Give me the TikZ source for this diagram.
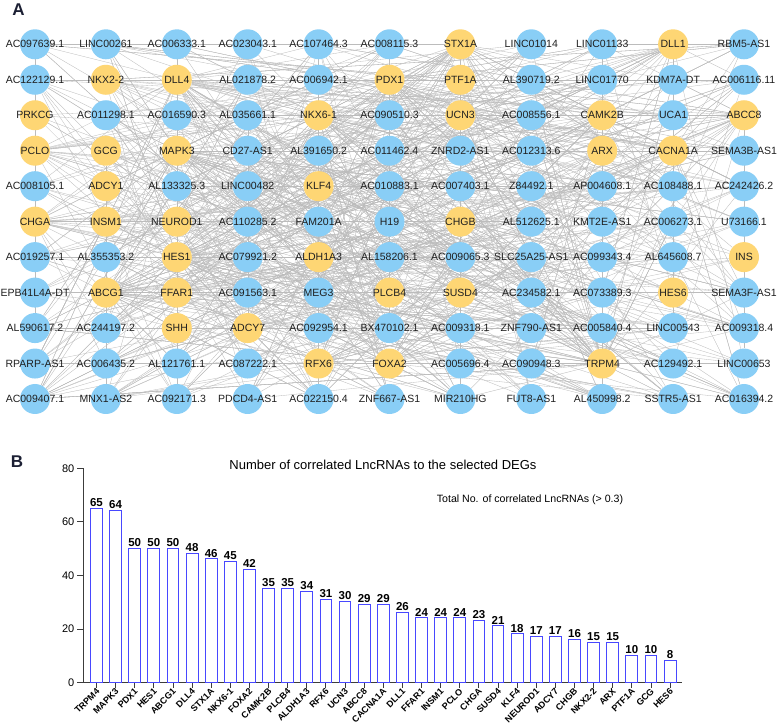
\documentclass[tikz,border=0pt]{standalone}
\usepackage{fontspec}
\setmainfont{Liberation Sans}
\usetikzlibrary{backgrounds}
\definecolor{nodeblue}{RGB}{137,206,246}
\definecolor{nodeyellow}{RGB}{254,214,116}
\definecolor{edgegray}{RGB}{188,188,188}
\definecolor{barblue}{RGB}{72,72,255}
\definecolor{panelink}{RGB}{28,32,52}
\definecolor{axisgray}{RGB}{60,60,60}
\newcommand\gridrow[2]{%
  \foreach \lbl/\typ [count=\cc] in {#2} {%
    \node[\typ,label={[lab]center:\lbl}] (n#1-\cc) at ({35+(\cc-1)*70.9},{44.3+(#1-1)*35.47}) {};
    \ifx\typ\lnctag \xdef\bluelist{\bluelist{n#1-\cc}}\fi
  }}
\def\lnctag{lnc}
\def\bluelist{}
\begin{document}
\begin{tikzpicture}[x=1pt,y=-1pt,
  lnc/.style={circle,fill=nodeblue,minimum size=30pt,inner sep=0pt},
  gene/.style={circle,fill=nodeyellow,minimum size=30pt,inner sep=0pt},
  lab/.style={font=\fontsize{10.5}{12}\selectfont,text=black!88,inner sep=0pt},
  edge/.style={draw=edgegray,line width=0.32pt},
  panel/.style={font=\fontsize{17}{20}\bfseries,text=panelink},
  barbox/.style={draw=barblue,fill=white,line width=1pt,minimum width=11.8pt,inner sep=0pt},
  vallab/.style={font=\fontsize{11.5}{13}\bfseries,inner sep=1pt},
  xlab/.style={font=\fontsize{9}{11}\bfseries,inner sep=0pt},
  ticklab/.style={font=\fontsize{11}{13}\selectfont,inner sep=0pt},
  axisline/.style={draw=axisgray,line width=0.9pt}]
\useasboundingbox (0,0) rectangle (777,727);
\node[panel] (panelA) at (18.5,10) {A};
\node[panel] (panelB) at (17,462) {B};
% ---------- network grid ----------
\gridrow{1}{AC097639.1/lnc,LINC00261/lnc,AC006333.1/lnc,AC023043.1/lnc,AC107464.3/lnc,AC008115.3/lnc,STX1A/gene,LINC01014/lnc,LINC01133/lnc,DLL1/gene,RBM5-AS1/lnc}
\gridrow{2}{AC122129.1/lnc,NKX2-2/gene,DLL4/gene,AL021878.2/lnc,AC006942.1/lnc,PDX1/gene,PTF1A/gene,AL390719.2/lnc,LINC01770/lnc,KDM7A-DT/lnc,AC006116.11/lnc}
\gridrow{3}{PRKCG/gene,AC011298.1/lnc,AC016590.3/lnc,AL035661.1/lnc,NKX6-1/gene,AC090510.3/lnc,UCN3/gene,AC008556.1/lnc,CAMK2B/gene,UCA1/lnc,ABCC8/gene}
\gridrow{4}{PCLO/gene,GCG/gene,MAPK3/gene,CD27-AS1/lnc,AL391650.2/lnc,AC011462.4/lnc,ZNRD2-AS1/lnc,AC012313.6/lnc,ARX/gene,CACNA1A/gene,SEMA3B-AS1/lnc}
\gridrow{5}{AC008105.1/lnc,ADCY1/gene,AL133325.3/lnc,LINC00482/lnc,KLF4/gene,AC010883.1/lnc,AC007403.1/lnc,Z84492.1/lnc,AP004608.1/lnc,AC108488.1/lnc,AC242426.2/lnc}
\gridrow{6}{CHGA/gene,INSM1/gene,NEUROD1/gene,AC110285.2/lnc,FAM201A/lnc,H19/lnc,CHGB/gene,AL512625.1/lnc,KMT2E-AS1/lnc,AC006273.1/lnc,U73166.1/lnc}
\gridrow{7}{AC019257.1/lnc,AL355353.2/lnc,HES1/gene,AC079921.2/lnc,ALDH1A3/gene,AL158206.1/lnc,AC009065.3/lnc,SLC25A25-AS1/lnc,AC099343.4/lnc,AL645608.7/lnc,INS/gene}
\gridrow{8}{EPB41L4A-DT/lnc,ABCG1/gene,FFAR1/gene,AC091563.1/lnc,MEG3/lnc,PLCB4/gene,SUSD4/gene,AC234582.1/lnc,AC073389.3/lnc,HES6/gene,SEMA3F-AS1/lnc}
\gridrow{9}{AL590617.2/lnc,AC244197.2/lnc,SHH/gene,ADCY7/gene,AC092954.1/lnc,BX470102.1/lnc,AC009318.1/lnc,ZNF790-AS1/lnc,AC005840.4/lnc,LINC00543/lnc,AC009318.4/lnc}
\gridrow{10}{RPARP-AS1/lnc,AC006435.2/lnc,AL121761.1/lnc,AC087222.1/lnc,RFX6/gene,FOXA2/gene,AC005696.4/lnc,AC090948.3/lnc,TRPM4/gene,AC129492.1/lnc,LINC00653/lnc}
\gridrow{11}{AC009407.1/lnc,MNX1-AS2/lnc,AC092171.3/lnc,PDCD4-AS1/lnc,AC022150.4/lnc,ZNF667-AS1/lnc,MIR210HG/lnc,FUT8-AS1/lnc,AL450998.2/lnc,SSTR5-AS1/lnc,AC016394.2/lnc}
\edef\tmpdecl{\noexpand\pgfmathdeclarerandomlist{blues}{\bluelist}}\tmpdecl
\pgfmathsetseed{20231}
\begin{pgfonlayer}{background}
\fill[white] (0,0) rectangle (777,727);
\foreach \g/\k in {n10-9/65,n4-3/64,n2-6/50,n7-3/50,n8-2/50,n2-3/48,n1-7/46,n3-5/45,n10-6/42,n3-9/35,n8-6/35,n7-5/34,n10-5/31,n3-7/30,n3-11/29,n4-10/29,n1-10/26,n8-3/24,n6-2/24,n4-1/24,n6-1/23,n8-7/21,n5-5/18,n6-3/17,n9-4/17,n6-7/16,n2-2/15,n4-9/15,n2-7/10,n4-2/10,n8-10/8,n3-1/6,n5-2/6,n9-3/6,n7-11/6} {
  \foreach \i in {1,...,\k} {
    \pgfmathrandomitem{\tgt}{blues}
    \draw[edge] (\g) -- (\tgt);
  }
}
\end{pgfonlayer}
% ---------- bar chart ----------
\node[font=\fontsize{13}{15}\selectfont,inner sep=0pt] (title) at (383,465) {Number of correlated LncRNAs to the selected DEGs};
\node[font=\fontsize{10.6}{12}\selectfont,inner sep=0pt] (note) at (530,500) {Total No. of correlated LncRNAs (> 0.3)};
\draw[axisline] (83,468.3) -- (83,682.7) -- (682,682.7);
\foreach \v in {0,20,40,60,80} {
  \draw[axisline] (77,{682.7-\v*2.68}) -- (83,{682.7-\v*2.68});
  \node[ticklab,anchor=east] (ytick\v) at (74.5,{682.7-\v*2.68}) {\v};
}
\foreach \g/\v [count=\i] in {TRPM4/65,MAPK3/64,PDX1/50,HES1/50,ABCG1/50,DLL4/48,STX1A/46,NKX6-1/45,FOXA2/42,CAMK2B/35,PLCB4/35,ALDH1A3/34,RFX6/31,UCN3/30,ABCC8/29,CACNA1A/29,DLL1/26,FFAR1/24,INSM1/24,PCLO/24,CHGA/23,SUSD4/21,KLF4/18,NEUROD1/17,ADCY7/17,CHGB/16,NKX2-2/15,ARX/15,PTF1A/10,GCG/10,HES6/8} {
  \pgfmathsetmacro\xc{96.5+(\i-1)*19.12}
  \node[barbox,minimum height={\v*2.68},anchor=south] (bar\i) at (\xc,682.7) {};
  \node[vallab,anchor=south] (val\i) at (bar\i.north) {\v};
  \draw[axisline] (\xc,682.7) -- (\xc,688);
  \node[xlab,rotate=45,anchor=east] (xl\i) at (\xc+1.5,690) {\g};
}
\end{tikzpicture}
\end{document}
